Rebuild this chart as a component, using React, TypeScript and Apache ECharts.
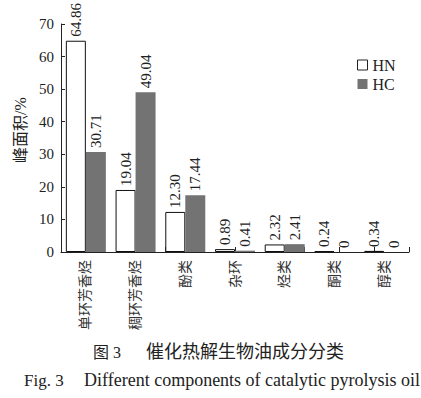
import React, { useEffect, useRef } from "react";
import * as echarts from "echarts";

const categories = ["单环芳香烃", "稠环芳香烃", "酚类", "杂环", "烃类", "酮类", "醇类"];
const hnValues = [64.86, 19.04, 12.3, 0.89, 2.32, 0.24, 0.34];
const hcValues = [30.71, 49.04, 17.44, 0.41, 2.41, 0, 0];
const seriesNames = ["HN", "HC"];
const yAxisName = "峰面积/%";
const captionCnNum = "图 3";
const captionCn = "催化热解生物油成分分类";
const captionEnNum = "Fig. 3";
const captionEn = "Different components of catalytic pyrolysis oil";

const SERIF = "'Liberation Serif', 'Times New Roman', 'Noto Sans CJK SC', serif";

export default function App() {
  const ref = useRef<HTMLDivElement>(null);
  useEffect(() => {
    if (!ref.current) return;
    const chart = echarts.init(ref.current, null, { renderer: "svg" });
    const fmt = (p: any) => (p.value === 0 ? "0" : Number(p.value).toFixed(2));
    const labelCfg = {
      show: true,
      position: "top",
      rotate: 90,
      align: "left",
      verticalAlign: "middle",
      distance: 4,
      formatter: fmt,
      fontFamily: SERIF,
      fontSize: 15,
      color: "#222",
    };
    chart.setOption({
      animation: false,
      backgroundColor: "#fff",
      grid: { left: 61, top: 24, width: 348, height: 228, containLabel: false },
      legend: {
        orient: "vertical",
        left: 352,
        top: 52,
        itemWidth: 10,
        itemHeight: 10,
        itemGap: 3,
        icon: "rect",
        textStyle: { fontFamily: SERIF, fontSize: 16, color: "#222" },
        data: [
          { name: seriesNames[0], itemStyle: { color: "#fff", borderColor: "#222", borderWidth: 1 } },
          { name: seriesNames[1], itemStyle: { color: "#737373", borderWidth: 0 } },
        ],
      },
      xAxis: [
        {
          type: "category",
          data: categories,
          axisLine: { lineStyle: { color: "#222", width: 1 } },
          axisTick: { show: false },
          axisLabel: {
            rotate: 90,
            fontFamily: SERIF,
            fontSize: 14,
            color: "#333",
            margin: 8,
          },
        },
        {
          type: "value",
          position: "bottom",
          min: 0,
          max: 10,
          interval: 1,
          show: true,
          axisLine: { show: false },
          axisTick: { show: true, inside: true, length: 5, lineStyle: { color: "#222" } },
          axisLabel: { show: false },
          splitLine: { show: false },
        },
      ],
      yAxis: {
        type: "value",
        min: 0,
        max: 70,
        interval: 10,
        name: yAxisName,
        nameLocation: "middle",
        nameGap: 28,
        nameTextStyle: { fontFamily: SERIF, fontSize: 16, color: "#222", padding: [0, 0, 0, 16] },
        axisLine: { show: true, lineStyle: { color: "#222", width: 1 } },
        axisTick: { show: true, inside: true, length: 4, lineStyle: { color: "#222" } },
        axisLabel: { fontFamily: SERIF, fontSize: 15, color: "#222", margin: 7 },
        splitLine: { show: false },
      },
      series: [
        {
          name: seriesNames[0],
          type: "bar",
          data: hnValues,
          barWidth: 20,
          barGap: "0%",
          itemStyle: { color: "#fff", borderColor: "#111", borderWidth: 1 },
          label: labelCfg,
        },
        {
          name: seriesNames[1],
          type: "bar",
          data: hcValues,
          barWidth: 20,
          barGap: "0%",
          itemStyle: { color: "#737373", borderColor: "#737373", borderWidth: 0 },
          label: labelCfg,
        },
      ],
      graphic: [
        {
          type: "text",
          left: 93,
          top: 344,
          style: { text: captionCnNum, fontFamily: SERIF, fontSize: 16, fill: "#222" },
        },
        {
          type: "text",
          left: 146,
          top: 343,
          style: { text: captionCn, fontFamily: SERIF, fontSize: 18, fill: "#222" },
        },
        {
          type: "text",
          left: 24,
          top: 372,
          style: { text: captionEnNum, fontFamily: SERIF, fontSize: 17, fill: "#222" },
        },
        {
          type: "text",
          left: 84,
          top: 371,
          style: { text: captionEn, fontFamily: SERIF, fontSize: 18, fill: "#222" },
        },
      ],
    });
    return () => chart.dispose();
  }, []);
  return (
    <div
      ref={ref}
      style={{ position: "fixed", left: 0, top: 0, width: 421, height: 398, background: "#fff" }}
    />
  );
}
